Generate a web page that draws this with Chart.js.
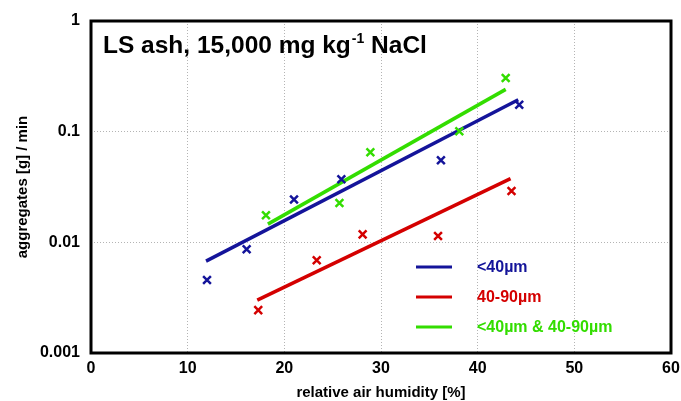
<!DOCTYPE html>
<html>
<head>
<meta charset="utf-8">
<script src="https://cdn.jsdelivr.net/npm/chart.js@4/dist/chart.umd.min.js"></script>
<style>
html,body{margin:0;padding:0;background:#fff;}
#wrap{width:681px;height:401px;position:relative;}
</style>
</head>
<body>
<div id="wrap"><canvas id="c" width="681" height="401"></canvas></div>
<script>
// ---- data ----
const seriesNames = ['<40µm', '40-90µm', '<40µm & 40-90µm'];
const blueX = [12.0, 16.1, 21.0, 25.9, 36.2, 44.3];
const blueY = [0.00456, 0.00867, 0.0244, 0.0372, 0.0551, 0.175];
const redX = [17.3, 23.35, 28.1, 35.9, 43.5];
const redY = [0.00244, 0.0069, 0.0118, 0.0114, 0.0291];
const greenX = [18.1, 25.7, 28.9, 38.1, 42.9];
const greenY = [0.0176, 0.0227, 0.0651, 0.101, 0.305];
const blueFitX = [11.9, 44.2];
const blueFitY = [0.00676, 0.194];
const redFitX = [17.2, 43.4];
const redFitY = [0.0030, 0.0377];
const greenFitX = [18.3, 42.9];
const greenFitY = [0.0146, 0.241];
const yTickValues = [0.001, 0.01, 0.1, 1];
const yTickLabels = ['0.001', '0.01', '0.1', '1'];
const xTickValues = [0, 10, 20, 30, 40, 50, 60];
const titleMain = 'LS ash, 15,000 mg kg';
const titleSup = '-1';
const titleEnd = ' NaCl';
const xTitle = 'relative air humidity [%]';
const yTitle = 'aggregates [g] / min';

const BLUE = '#14149a', RED = '#d40000', GREEN = '#33dd00';
const FONT = '"Liberation Sans", Arial, sans-serif';
const pts = (xs, ys) => xs.map((x, i) => ({x: x, y: ys[i]}));

function markerSet(label, xs, ys, col) {
  return {label, data: pts(xs, ys), showLine: false, pointStyle: 'crossRot',
    pointRadius: 5.5, pointHoverRadius: 5.5, pointBorderWidth: 2.5, borderColor: col, backgroundColor: col};
}
function lineSet(label, xs, ys, col) {
  return {label, data: pts(xs, ys), showLine: true, pointRadius: 0, borderWidth: 3.5,
    borderColor: col, backgroundColor: col, borderCapStyle: 'butt'};
}

const decor = {
  id: 'decor',
  afterDatasetsDraw(chart) {
    const ctx = chart.ctx, a = chart.chartArea;
    ctx.save();
    // frame
    ctx.strokeStyle = '#000'; ctx.lineWidth = 3;
    ctx.strokeRect(a.left, a.top, a.right - a.left, a.bottom - a.top);
    // title
    ctx.fillStyle = '#000'; ctx.textBaseline = 'alphabetic'; ctx.textAlign = 'left';
    ctx.font = 'bold 24.5px ' + FONT;
    let x = 103, y = 53;
    ctx.fillText(titleMain, x, y); x += ctx.measureText(titleMain).width + 1;
    ctx.font = 'bold 14px ' + FONT;
    ctx.fillText(titleSup, x, y - 10); x += ctx.measureText(titleSup).width;
    ctx.font = 'bold 24.5px ' + FONT;
    ctx.fillText(titleEnd, x, y);
    // legend
    const cols = [BLUE, RED, GREEN], ys = [267, 297, 327];
    ctx.lineWidth = 3; ctx.textBaseline = 'middle'; ctx.font = 'bold 16px ' + FONT;
    for (let i = 0; i < 3; i++) {
      ctx.strokeStyle = cols[i]; ctx.fillStyle = cols[i];
      ctx.beginPath(); ctx.moveTo(416, ys[i]); ctx.lineTo(452, ys[i]); ctx.stroke();
      ctx.fillText(seriesNames[i], 477, ys[i] + 1);
    }
    ctx.restore();
  }
};

new Chart(document.getElementById('c'), {
  type: 'scatter',
  data: {
    datasets: [
      markerSet(seriesNames[0], blueX, blueY, BLUE),
      markerSet(seriesNames[1], redX, redY, RED),
      markerSet(seriesNames[2], greenX, greenY, GREEN),
      lineSet(seriesNames[0] + ' fit', blueFitX, blueFitY, BLUE),
      lineSet(seriesNames[1] + ' fit', redFitX, redFitY, RED),
      lineSet(seriesNames[2] + ' fit', greenFitX, greenFitY, GREEN)
    ]
  },
  options: {
    responsive: false, animation: false, devicePixelRatio: 1,
    layout: {padding: {left: 0, right: 10, top: 21, bottom: 0}},
    plugins: {legend: {display: false}, tooltip: {enabled: false}},
    scales: {
      x: {
        type: 'linear', min: 0, max: 60,
        afterBuildTicks: s => { s.ticks = xTickValues.map(v => ({value: v})); },
        afterFit: s => { s.height = 48; s.paddingLeft = 0; s.paddingRight = 0; },
        ticks: {color: '#000', padding: 6, font: {family: FONT, size: 16, weight: 'bold'}},
        grid: {drawTicks: false, lineWidth: 1,
          color: c => (c.tick && (c.tick.value === 0 || c.tick.value === 60)) ? 'rgba(0,0,0,0)' : '#b4b4b4'},
        border: {display: false, dash: [1, 2]},
        title: {display: true, text: xTitle, color: '#000', padding: {top: 0, bottom: -1},
          font: {family: FONT, size: 15, weight: 'bold'}}
      },
      y: {
        type: 'logarithmic', min: 0.001, max: 1,
        afterBuildTicks: s => { s.ticks = yTickValues.map(v => ({value: v})); },
        afterFit: s => { s.width = 91; s.paddingTop = 0; s.paddingBottom = 0; },
        ticks: {color: '#000', padding: 11, font: {family: FONT, size: 16, weight: 'bold'},
          callback: (v) => { const i = yTickValues.indexOf(v); return i >= 0 ? yTickLabels[i] : ''; }},
        grid: {drawTicks: false, lineWidth: 1,
          color: c => (c.tick && (c.tick.value === 0.001 || c.tick.value === 1)) ? 'rgba(0,0,0,0)' : '#b4b4b4'},
        border: {display: false, dash: [1, 2]},
        title: {display: true, text: yTitle, color: '#000', padding: {top: 14, bottom: 0},
          font: {family: FONT, size: 15, weight: 'bold'}}
      }
    }
  },
  plugins: [decor]
});
</script>
</body>
</html>
